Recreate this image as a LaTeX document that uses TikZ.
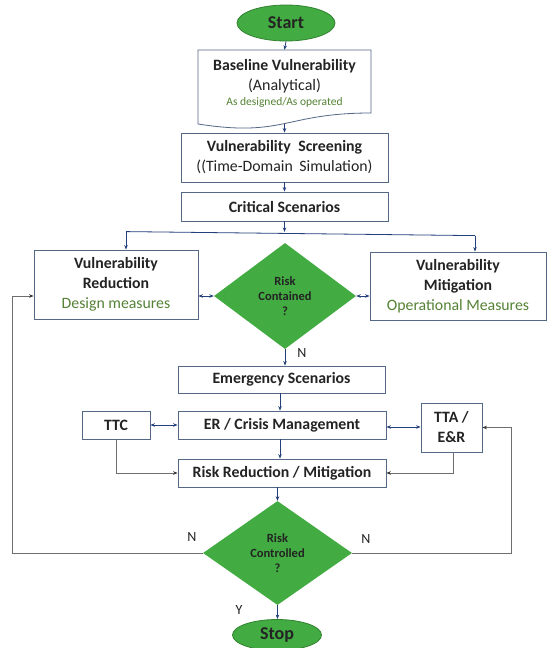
\documentclass[tikz,border=0pt]{standalone}
\usepackage{fontspec}
\setmainfont{Carlito}
\usetikzlibrary{shapes.geometric,arrows.meta,calc}
\definecolor{dgreen}{RGB}{66,171,66}
\definecolor{dgreenline}{RGB}{50,130,50}
\definecolor{boxline}{RGB}{84,104,134}
\definecolor{navy}{RGB}{36,64,124}
\definecolor{loopgrey}{RGB}{110,110,110}
\definecolor{txtgreen}{RGB}{84,130,53}
\definecolor{txt}{RGB}{35,35,35}
\tikzset{
  x=1pt, y=1pt,
  procbox/.style={draw=boxline, line width=0.8pt, fill=white, inner sep=0pt, align=center, text=txt},
  term/.style={ellipse, draw=dgreenline, line width=0.8pt, fill=dgreen, inner sep=0pt, text=txt, font=\fontsize{18}{20}\selectfont\bfseries},
  decision/.style={diamond, fill=dgreen, draw=none, inner sep=0pt, align=center, text=txt, font=\fontsize{12.5}{15}\selectfont\bfseries},
  arr/.style={draw=navy, line width=0.8pt, -{Stealth[length=4.5pt,width=3.5pt]}},
  darr/.style={draw=navy, line width=0.8pt, {Stealth[length=4.5pt,width=3.5pt]}-{Stealth[length=4.5pt,width=3.5pt]}},
  garr/.style={draw=loopgrey, line width=0.8pt, -{Stealth[length=4.5pt,width=3.5pt,color=black!80]}},
  lbl/.style={text=txt, font=\fontsize{14}{16}\selectfont, inner sep=0pt},
  big/.style={font=\fontsize{15.8}{20}\selectfont},
  plain/.style={text=txt, inner sep=0pt, anchor=base},
}
\begin{document}
\begin{tikzpicture}
\useasboundingbox (0,0) rectangle (547,-648);
\fill[white] (0,0) rectangle (547,-648);

% Start
\node[term, minimum width=98pt, minimum height=36pt] (start) at (286,-23) {Start};

% Baseline document shape
\node[inner sep=0pt, minimum width=173pt, minimum height=74pt] (base) at (284.5,-87) {};
\draw[draw=boxline, line width=0.8pt, fill=white] (198,-50) -- (371,-50) -- (371,-113)
  .. controls (284.5,-113) and (284.5,-137.5) .. (198,-124) -- cycle;
\node[plain, font=\fontsize{15.8}{18}\selectfont\bfseries] (b1) at (284.5,-70.5) {Baseline Vulnerability};
\node[plain, font=\fontsize{16}{18}\selectfont] (b2) at (284.5,-90.5) {(Analytical)};
\node[plain, font=\fontsize{11.5}{13}\selectfont, text=txtgreen] (b3) at (284.5,-105) {As designed/As operated};

% Screening & critical
\node[procbox, big, minimum width=207pt, minimum height=49pt] (scr) at (284.5,-157.5)
  {\bfseries Vulnerability\hspace{4pt} Screening\\ ((Time-Domain\hspace{3pt} Simulation)};
\node[procbox, big, minimum width=207pt, minimum height=29pt] (crit) at (284.5,-206.5)
  {\bfseries Critical Scenarios};
\coordinate (j) at (284.5,-232);

% Middle row
\node[procbox, big, minimum width=164pt, minimum height=69pt] (vr) at (116,-284.5)
  {\bfseries Vulnerability\\ \bfseries Reduction\\ \color{txtgreen} Design measures};
\node[procbox, big, minimum width=176pt, minimum height=68pt] (vm) at (458,-286)
  {\bfseries Vulnerability\\ \bfseries Mitigation\\ \color{txtgreen} Operational Measures};
\node[decision, minimum width=142pt, minimum height=106pt] (d1) at (285,-296)
  {Risk\\ Contained\\ ?};

% Lower part
\node[procbox, big, minimum width=207pt, minimum height=27pt] (em) at (281.5,-379.5)
  {\bfseries Emergency Scenarios};
\node[procbox, big, minimum width=208pt, minimum height=28pt] (er) at (282,-425)
  {\bfseries ER / Crisis Management};
\node[procbox, big, minimum width=68pt, minimum height=28pt] (ttc) at (116,-425)
  {\bfseries TTC};
\node[procbox, big, minimum width=61pt, minimum height=49pt] (tta) at (451.5,-427.5)
  {\bfseries TTA /\\ \bfseries E\&R};
\node[procbox, big, minimum width=208pt, minimum height=28pt] (rr) at (282,-473)
  {\bfseries Risk Reduction / Mitigation};
\node[decision, minimum width=149pt, minimum height=104pt] (d2) at (277.5,-553)
  {Risk\\ Controlled\\ ?};
\node[term, minimum width=89pt, minimum height=31pt] (stop) at (277,-635) {Stop};

% Connectors
\draw[arr] (start.south) -- (base.north);
\draw[arr] (base.south) -- (scr.north);
\draw[arr] (scr.south) -- (crit.north);
\draw[arr] (crit.south) -- (j);
\draw[draw=navy, line width=0.8pt] ($(vr.north)+(10,18)$) -- ($(vm.north)+(17,16)$);
\draw[arr] ($(vr.north)+(10,18)$) -- ($(vr.north)+(10,0)$);
\draw[arr] ($(vm.north)+(17,16)$) -- ($(vm.north)+(17,0)$);
\draw[darr] (d1.west) -- (d1.west -| vr.east);
\draw[darr] (d1.east) -- (d1.east -| vm.west);
\draw[arr] (d1.south) -- (d1.south |- em.north);
\node[lbl] (n1) at (302,-353) {N};
\draw[arr] ([xshift=-1.5pt]em.south) -- ([xshift=-2pt]er.north);
\draw[darr] (ttc.east) -- (er.west);
\draw[darr] ([yshift=-2pt]er.east) -- ([yshift=-2pt]er.east -| tta.west);
\draw[arr] ([xshift=-2pt]er.south) -- ([xshift=-2pt]rr.north);
\draw[garr] (ttc.south) |- (rr.west);
\draw[garr] ([xshift=1.5pt]tta.south) |- (rr.east);
\draw[arr] (d2.north |- rr.south) -- (d2.north);
\coordinate (lb) at (12,-553);
\coordinate (lt) at (12,-296);
\draw[garr] (d2.west) -- (lb) -- (lt) -- (lt -| vr.west);
\coordinate (rb) at (511,-553);
\draw[garr] (d2.east) -- (rb) |- (tta.east);
\draw[arr] (d2.south) -- (d2.south |- stop.north);
\node[lbl] (n2) at (192,-537) {N};
\node[lbl] (n3) at (366,-539) {N};
\node[lbl] (y1) at (239,-610) {Y};
\end{tikzpicture}
\end{document}
